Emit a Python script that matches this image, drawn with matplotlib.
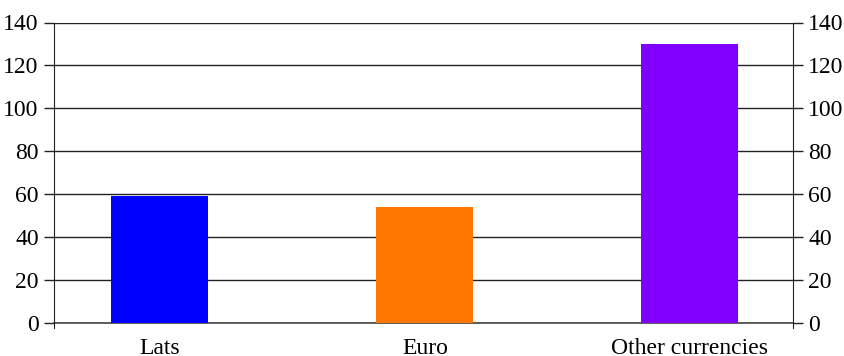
import matplotlib.pyplot as plt

# currencies and their values
categories = ["Lats", "Euro", "Other currencies"]
values = [59, 54, 130]
colors = ["#0000FF", "#FF7700", "#7F00FF"]
y_ticks = [0, 20, 40, 60, 80, 100, 120, 140]

plt.rcParams['font.family'] = ['Liberation Serif', 'DejaVu Serif']

fig = plt.figure(figsize=(8.45, 3.56), dpi=100)
ax = fig.add_axes([54 / 845, 1 - 323 / 356, (793 - 54) / 845, (323 - 22.5) / 356])

x = list(range(len(categories)))
ax.bar(x, values, width=0.366, color=colors, zorder=3)

ax.set_ylim(0, 140)
ax.set_xlim(-0.4, 2.39)
ax.set_yticks(y_ticks)
ax.set_xticks(x)
ax.set_xticklabels(categories)

# horizontal grid lines
ax.grid(axis='y', color='#222222', linewidth=1.0, zorder=1)
ax.axhline(0, color='#444444', linewidth=1.2, zorder=2, clip_on=False)
ax.set_axisbelow(True)

ax.spines['top'].set_visible(False)
ax.spines['bottom'].set_visible(False)
ax.spines['left'].set_bounds(-2.4, 140)
ax.spines['right'].set_bounds(-2.4, 140)
ax.spines['left'].set_color('#222222')
ax.spines['right'].set_color('#222222')

ax.tick_params(axis='y', which='both', left=True, right=True,
               labelleft=True, labelright=True, length=7, width=1,
               color='#222222', labelsize=17, pad=4)
ax.tick_params(axis='x', length=0, labelsize=17, pad=11)

fig.savefig("out.png", dpi=100)
